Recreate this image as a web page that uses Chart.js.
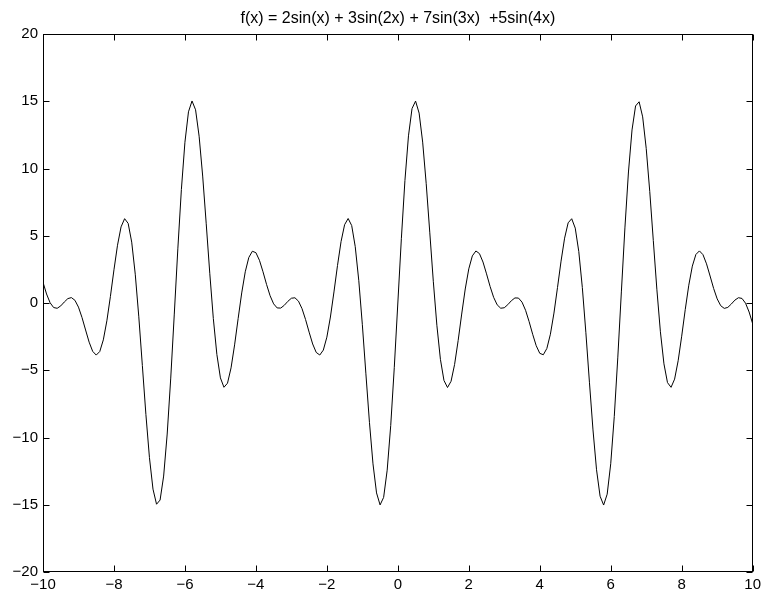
<!DOCTYPE html>
<html>
<head>
<meta charset="utf-8">
<script src="https://cdn.jsdelivr.net/npm/chart.js@4.4.1/dist/chart.umd.min.js"></script>
<style>
html,body{margin:0;padding:0;background:#fff;}
#c{display:block;}
</style>
</head>
<body>
<canvas id="c" width="765" height="590"></canvas>
<script>
const titleText = "f(x) = 2sin(x) + 3sin(2x) + 7sin(3x)  +5sin(4x)";

const xValues = [
-10,-9.9,-9.8,-9.7,-9.6,-9.5,-9.4,-9.3,-9.2,-9.1,
-9,-8.9,-8.8,-8.7,-8.6,-8.5,-8.4,-8.3,-8.2,-8.1,
-8,-7.9,-7.8,-7.7,-7.6,-7.5,-7.4,-7.3,-7.2,-7.1,
-7,-6.9,-6.8,-6.7,-6.6,-6.5,-6.4,-6.3,-6.2,-6.1,
-6,-5.9,-5.8,-5.7,-5.6,-5.5,-5.4,-5.3,-5.2,-5.1,
-5,-4.9,-4.8,-4.7,-4.6,-4.5,-4.4,-4.3,-4.2,-4.1,
-4,-3.9,-3.8,-3.7,-3.6,-3.5,-3.4,-3.3,-3.2,-3.1,
-3,-2.9,-2.8,-2.7,-2.6,-2.5,-2.4,-2.3,-2.2,-2.1,
-2,-1.9,-1.8,-1.7,-1.6,-1.5,-1.4,-1.3,-1.2,-1.1,
-1,-0.9,-0.8,-0.7,-0.6,-0.5,-0.4,-0.3,-0.2,-0.1,
0,0.1,0.2,0.3,0.4,0.5,0.6,0.7,0.8,0.9,
1,1.1,1.2,1.3,1.4,1.5,1.6,1.7,1.8,1.9,
2,2.1,2.2,2.3,2.4,2.5,2.6,2.7,2.8,2.9,
3,3.1,3.2,3.3,3.4,3.5,3.6,3.7,3.8,3.9,
4,4.1,4.2,4.3,4.4,4.5,4.6,4.7,4.8,4.9,
5,5.1,5.2,5.3,5.4,5.5,5.6,5.7,5.8,5.9,
6,6.1,6.2,6.3,6.4,6.5,6.6,6.7,6.8,6.9,
7,7.1,7.2,7.3,7.4,7.5,7.6,7.7,7.8,7.9,
8,8.1,8.2,8.3,8.4,8.5,8.6,8.7,8.8,8.9,
9,9.1,9.2,9.3,9.4,9.5,9.6,9.7,9.8,9.9,
10
];

const yValues = [
1.540,0.670,0.017,-0.339,-0.393,-0.215,0.074,0.326,0.401,0.202,
-0.307,-1.082,-2.007,-2.911,-3.594,-3.872,-3.606,-2.742,-1.325,0.492,
2.467,4.296,5.659,6.269,5.919,4.524,2.140,-1.027,-4.644,-8.287,
-11.497,-13.838,-14.961,-14.651,-12.867,-9.742,-5.583,-0.824,4.025,8.440,
11.953,14.213,15.022,14.365,12.401,9.438,5.889,2.213,-1.148,-3.825,
-5.567,-6.266,-5.961,-4.822,-3.114,-1.153,0.748,2.321,3.382,3.848,
3.741,3.175,2.323,1.384,0.542,-0.065,-0.368,-0.377,-0.170,0.123,
0.354,0.389,0.138,-0.421,-1.231,-2.166,-3.047,-3.674,-3.868,-3.502,
-2.539,-1.042,0.821,2.793,4.566,5.821,6.282,5.758,4.188,1.654,
-1.615,-5.267,-8.870,-11.962,-14.120,-15.012,-14.453,-12.428,-9.105,-4.811,
0,4.811,9.105,12.428,14.453,15.012,14.120,11.962,8.870,5.267,
1.615,-1.654,-4.188,-5.758,-6.282,-5.821,-4.566,-2.793,-0.821,1.042,
2.539,3.502,3.868,3.674,3.047,2.166,1.231,0.421,-0.138,-0.389,
-0.354,-0.123,0.170,0.377,0.368,0.065,-0.542,-1.384,-2.323,-3.175,
-3.741,-3.848,-3.382,-2.321,-0.748,1.153,3.114,4.822,5.961,6.266,
5.567,3.825,1.148,-2.213,-5.889,-9.438,-12.401,-14.365,-15.022,-14.213,
-11.953,-8.440,-4.025,0.824,5.583,9.742,12.867,14.651,14.961,13.838,
11.497,8.287,4.644,1.027,-2.140,-4.524,-5.919,-6.269,-5.659,-4.296,
-2.467,-0.492,1.325,2.742,3.606,3.872,3.594,2.911,2.007,1.082,
0.307,-0.202,-0.401,-0.326,-0.074,0.215,0.393,0.339,-0.017,-0.670,
-1.540
];

const xTicks = [-10,-8,-6,-4,-2,0,2,4,6,8,10];
const yTicks = [-20,-15,-10,-5,0,5,10,15,20];

const FONT = '"Liberation Sans", Arial, Helvetica, sans-serif';
const fmt = v => (v < 0 ? '\u2212' + Math.abs(v) : String(v));

const points = xValues.map((x, i) => ({x: x, y: yValues[i]}));

const boxPlugin = {
  id: 'matlabBox',
  afterDraw(chart) {
    const {ctx, chartArea: a, scales: {x, y}} = chart;
    const L = Math.round(a.left) + 0.5, R = Math.round(a.right) - 0.5;
    const T = Math.round(a.top) + 0.5, B = Math.round(a.bottom) - 0.5;
    const tl = 6;
    ctx.save();
    ctx.strokeStyle = '#000';
    ctx.lineWidth = 1;
    ctx.beginPath();
    xTicks.forEach(v => {
      const px = Math.round(x.getPixelForValue(v)) + 0.5;
      ctx.moveTo(px, B); ctx.lineTo(px, B - tl);
      ctx.moveTo(px, T); ctx.lineTo(px, T + tl);
    });
    yTicks.forEach(v => {
      const py = Math.round(y.getPixelForValue(v)) + 0.5;
      ctx.moveTo(L, py); ctx.lineTo(L + tl, py);
      ctx.moveTo(R, py); ctx.lineTo(R - tl, py);
    });
    ctx.stroke();
    ctx.strokeRect(L, T, R - L, B - T);
    // title centred over the axes box
    ctx.fillStyle = '#000';
    ctx.font = '16px ' + FONT;
    ctx.textAlign = 'center';
    ctx.textBaseline = 'middle';
    ctx.fillText(titleText, (a.left + a.right) / 2, 18.5);
    ctx.restore();
  }
};

new Chart(document.getElementById('c'), {
  type: 'line',
  data: {
    datasets: [{
      data: points,
      borderColor: '#000',
      borderWidth: 1,
      pointRadius: 0,
      tension: 0,
      fill: false
    }]
  },
  options: {
    responsive: false,
    animation: false,
    devicePixelRatio: 1,
    layout: {padding: {left: 0, right: 8, top: 34, bottom: 0}},
    plugins: {
      legend: {display: false},
      tooltip: {enabled: false},
      title: {display: false}
    },
    scales: {
      x: {
        type: 'linear',
        min: -10, max: 10,
        afterBuildTicks: s => { s.ticks = xTicks.map(v => ({value: v})); },
        afterFit: s => { s.height = 18; },
        grid: {display: true, drawOnChartArea: false, drawTicks: false},
        border: {display: false},
        ticks: {
          autoSkip: false, maxRotation: 0, padding: 4, color: '#000',
          font: {family: FONT, size: 15}, callback: v => fmt(v)
        }
      },
      y: {
        type: 'linear',
        min: -20, max: 20,
        afterBuildTicks: s => { s.ticks = yTicks.map(v => ({value: v})); },
        afterFit: s => { s.width = 43; },
        grid: {display: true, drawOnChartArea: false, drawTicks: false},
        border: {display: false},
        ticks: {
          autoSkip: false, padding: 5, color: '#000',
          font: {family: FONT, size: 15}, callback: v => fmt(v)
        }
      }
    }
  },
  plugins: [boxPlugin]
});
</script>
</body>
</html>
